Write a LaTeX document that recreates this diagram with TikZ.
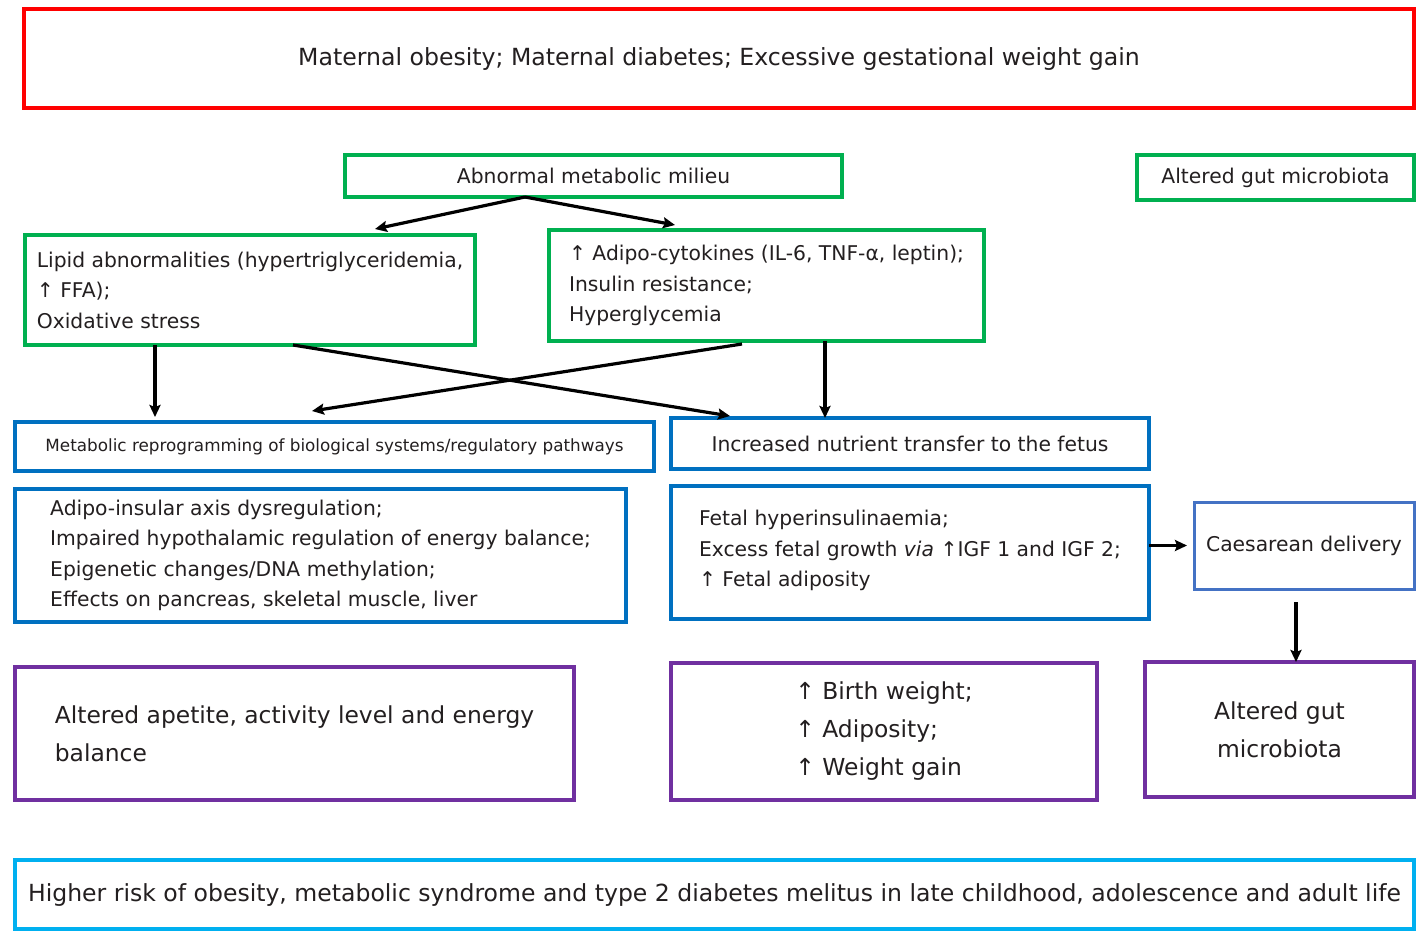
\documentclass[tikz,border=0pt]{standalone}
\usepackage{fontspec}
\setmainfont{DejaVu Sans}
\usetikzlibrary{arrows.meta}

\definecolor{cRed}{HTML}{FF0000}
\definecolor{cGreen}{HTML}{00B050}
\definecolor{cBlue}{HTML}{0070C0}
\definecolor{cSoftBlue}{HTML}{4472C4}
\definecolor{cPurple}{HTML}{7030A0}
\definecolor{cCyan}{HTML}{00B0F0}
\definecolor{ink}{HTML}{231F20}

\begin{document}
\begin{tikzpicture}[x=1pt, y=-1pt,
  every node/.style={text=ink, inner sep=0pt, outer sep=0pt},
  framebox/.style={draw, line width=3.5pt, fill=white},
  mid/.style={font=\fontsize{20.3}{30.5}\selectfont},
  big/.style={font=\fontsize{23.4}{38}\selectfont},
  arr/.style={draw=black, line width=3.2pt, -{Stealth[length=12pt, width=11pt, inset=2pt]}}
]
\useasboundingbox (0,0) rectangle (1416,932);
\fill[white] (0,0) rectangle (1416,932);

% top cause
\node[framebox, draw=cRed, line width=4pt, font=\fontsize{23.6}{30}\selectfont, minimum width=1390pt, minimum height=99pt]
  (cause) at (719,58.5) {Maternal obesity; Maternal diabetes; Excessive gestational weight gain};

% first level mechanisms
\node[framebox, draw=cGreen, mid, minimum width=497pt, minimum height=42pt]
  (milieu) at (593.5,176) {Abnormal metabolic milieu};
\node[framebox, draw=cGreen, mid, minimum width=277pt, minimum height=45pt]
  (gutTop) at (1275.5,177.5) {Altered gut microbiota};
\node[framebox, draw=cGreen, mid, align=left, minimum width=450pt, minimum height=110pt]
  (lipid) at (250,290) {Lipid abnormalities (hypertriglyceridemia,\\↑ FFA);\\Oxidative stress};
\node[framebox, draw=cGreen, mid, align=left, minimum width=435pt, minimum height=111pt]
  (adipo) at (766.5,285.5) {↑ Adipo-cytokines (IL-6, TNF-α, leptin);\\Insulin resistance;\\Hyperglycemia};

% pathways
\node[framebox, draw=cBlue, font=\fontsize{16.8}{20}\selectfont, minimum width=639pt, minimum height=49pt]
  (reprog) at (334.5,446.5) {Metabolic reprogramming of biological systems/regulatory pathways};
\node[framebox, draw=cBlue, mid, minimum width=478pt, minimum height=51pt]
  (transfer) at (910,443.5) {Increased nutrient transfer to the fetus};
\node[framebox, draw=cBlue, mid, align=left, minimum width=611pt, minimum height=133pt]
  (axis) at (320.5,555.5) {Adipo-insular axis dysregulation;\\Impaired hypothalamic regulation of energy balance;\\Epigenetic changes/DNA methylation;\\Effects on pancreas, skeletal muscle, liver};
\node[framebox, draw=cBlue, mid, align=left, minimum width=478pt, minimum height=133pt]
  (fetal) at (910,552.5) {Fetal hyperinsulinaemia;\\Excess fetal growth \textit{via} ↑IGF 1 and IGF 2;\\↑ Fetal adiposity\vphantom{|}\rule[-8pt]{0pt}{1pt}};
\node[framebox, draw=cSoftBlue, line width=3pt, mid, minimum width=220pt, minimum height=87pt]
  (caesar) at (1304,545.5) {Caesarean delivery};

% outcomes
\node[framebox, draw=cPurple, big, align=left, minimum width=559pt, minimum height=133pt]
  (appetite) at (294.5,733.5) {Altered apetite, activity level and energy\\balance};
\node[framebox, draw=cPurple, big, align=left, minimum width=426pt, minimum height=137pt]
  (birth) at (884,731.5) {↑ Birth weight;\\↑ Adiposity;\\↑ Weight gain};
\node[framebox, draw=cPurple, big, align=center, minimum width=269pt, minimum height=135pt]
  (gutLow) at (1279.5,729.5) {Altered gut\\microbiota};

% long-term risk
\node[framebox, draw=cCyan, line width=4pt, font=\fontsize{23.55}{30}\selectfont, minimum width=1399pt, minimum height=69pt]
  (risk) at (714.5,894.5) {Higher risk of obesity, metabolic syndrome and type 2 diabetes melitus in late childhood, adolescence and adult life};

% connectors
\draw[arr] ([xshift=-68.5pt]milieu.south) -- ([xshift=125pt, yshift=6pt]lipid.north);
\draw[arr] ([xshift=-68.5pt]milieu.south) -- ([xshift=-91.5pt, yshift=5pt]adipo.north);
\draw[arr, shorten >=5pt] ([xshift=-95pt]lipid.south) -- ([xshift=-95pt]lipid.south |- reprog.north);
\draw[arr] ([xshift=58.5pt]adipo.south) -- ([xshift=58.5pt]adipo.south |- transfer.north);
\draw[arr] ([xshift=43pt]lipid.south) -- ([xshift=-180pt, yshift=2pt]transfer.north);
\draw[arr] ([xshift=-24.5pt, yshift=-3pt]adipo.south) -- ([xshift=-22.5pt, yshift=11pt]reprog.north);
\draw[arr, shorten >=7pt] (fetal.east |- caesar.west) -- (caesar.west);
\draw[arr, shorten <=13pt] ([xshift=-8pt]caesar.south) -- ([xshift=-8pt]caesar.south |- gutLow.north);
\end{tikzpicture}
\end{document}
